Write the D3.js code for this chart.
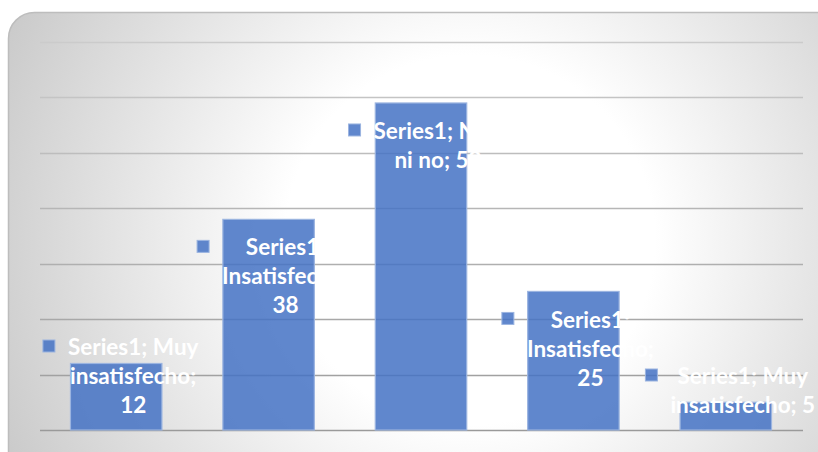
<!DOCTYPE html>
<html>
<head>
<meta charset="utf-8">
<script src="https://cdn.jsdelivr.net/npm/d3@7"></script>
<style>
  body { margin: 0; background: #fff; }
  svg { display: block; }
</style>
</head>
<body>
<div id="chart-area"></div>
<script>
// Data
let categories = ["Muy insatisfecho", "Insatisfecho", "Ni sí ni no", "Insatisfecho", "Muy insatisfecho"];
let values = [12, 38, 59, 25, 5];
let labelLines = [
  ["Series1; Muy", "insatisfecho;", "12"],
  ["Series1;", "Insatisfecho;", "38"],
  ["Series1; Ni sí", "ni no; 59"],
  ["Series1;", "Insatisfecho;", "25"],
  ["Series1; Muy", "insatisfecho; 5"]
];
let yTicks = [0, 10, 20, 30, 40, 50, 60, 70];

// SVG container
let W = 818, H = 452;
let svg = d3.select("#chart-area")
  .append("svg")
  .attr("width", W)
  .attr("height", H);

let defs = svg.append("defs");
let grad = defs.append("radialGradient")
  .attr("id", "bg")
  .attr("gradientUnits", "userSpaceOnUse")
  .attr("cx", 470).attr("cy", 240).attr("r", 560);
grad.append("stop").attr("offset", "0").attr("stop-color", "#ffffff");
grad.append("stop").attr("offset", "0.33").attr("stop-color", "#ffffff");
grad.append("stop").attr("offset", "1").attr("stop-color", "#c2c2c2");

// chart area background
svg.append("rect")
  .attr("x", 8.5).attr("y", 12.5)
  .attr("width", 840).attr("height", 470)
  .attr("rx", 26).attr("ry", 26)
  .attr("fill", "url(#bg)")
  .attr("stroke", "#bdbdbd")
  .attr("stroke-width", 1.5);

// Scales
let x = d3.scaleBand()
  .domain(d3.range(categories.length))
  .range([40, 802])
  .paddingInner(0.4)
  .paddingOuter(0.2);

let y = d3.scaleLinear()
  .domain([0, 70])
  .range([430, 42]);

let gridColor = d3.scaleLinear()
  .domain([70, 0])
  .range(["#cbcbcb", "#9a9a9a"]);

// Gridlines
svg.append("g")
  .selectAll("line")
  .data(yTicks)
  .enter()
  .append("line")
  .attr("x1", 40).attr("x2", 803)
  .attr("y1", d => Math.round(y(d)) + 0.5)
  .attr("y2", d => Math.round(y(d)) + 0.5)
  .attr("stroke", d => gridColor(d))
  .attr("stroke-width", 1.5);

// Bars
svg.append("g")
  .selectAll("rect")
  .data(values)
  .enter()
  .append("rect")
  .attr("x", (d, i) => x(i))
  .attr("y", d => y(d))
  .attr("width", x.bandwidth())
  .attr("height", d => y(0) - y(d))
  .attr("fill", "#4472c4")
  .attr("fill-opacity", 0.85)
  .attr("stroke", "#9bb4e0")
  .attr("stroke-width", 1.2);

// Data labels
let lineH = 29;
let labels = svg.append("g")
  .style("font-family", "Lato, 'Open Sans', sans-serif")
  .style("font-weight", "bold")
  .style("font-size", "22.5px");

values.forEach((v, i) => {
  let lines = labelLines[i];
  let cx = x(i) + x.bandwidth() / 2 + 17;
  let firstY = Math.min(y(v) + 28, y(0) - 25 - (lines.length - 1) * lineH);
  let g = labels.append("g");
  let maxW = 0;
  lines.forEach((t, j) => {
    let txt = g.append("text")
      .attr("x", cx)
      .attr("y", firstY + j * lineH)
      .attr("dy", "0.36em")
      .attr("text-anchor", "middle")
      .attr("fill", "#ffffff")
      .text(t);
    maxW = Math.max(maxW, txt.node().getComputedTextLength());
  });
  g.append("rect")
    .attr("x", cx - maxW / 2 - 25)
    .attr("y", firstY - 7)
    .attr("width", 12)
    .attr("height", 12)
    .attr("fill", "#4472c4")
    .attr("fill-opacity", 0.85)
    .attr("stroke", "#9bb4e0")
    .attr("stroke-width", 1);
});
</script>
</body>
</html>
